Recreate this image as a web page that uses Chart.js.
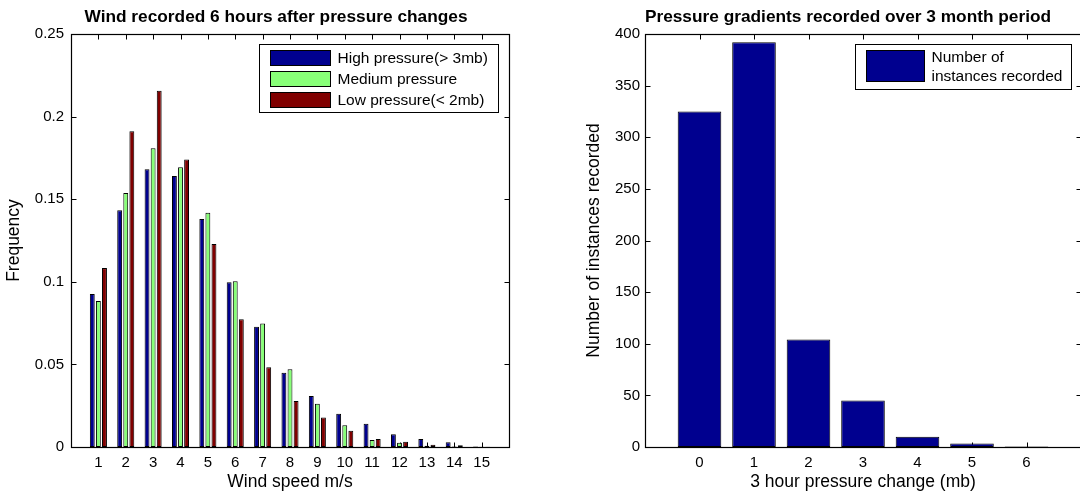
<!DOCTYPE html>
<html><head><meta charset="utf-8">
<script src="https://cdn.jsdelivr.net/npm/chart.js@4/dist/chart.umd.min.js"></script>
<style>
html,body{margin:0;padding:0;background:#fff;overflow:hidden;width:1080px;height:497px;position:relative;}
#c1{position:absolute;left:0;top:0;}
#c2{position:absolute;left:540px;top:0;}
</style></head><body>
<canvas id="c1" width="540" height="497"></canvas>
<canvas id="c2" width="552" height="497"></canvas>
<script>
// ---- data ----
const windSpeeds = [1, 2, 3, 4, 5, 6, 7, 8, 9, 10, 11, 12, 13, 14, 15];
const highPressure   = [0.0926, 0.1433, 0.1681, 0.1640, 0.1380, 0.0997, 0.0728, 0.0450, 0.0309, 0.0202, 0.0140, 0.0077, 0.0048, 0.0028, 0.0003];
const mediumPressure = [0.0884, 0.1537, 0.1808, 0.1693, 0.1418, 0.1003, 0.0747, 0.0470, 0.0262, 0.0131, 0.0042, 0.0025, 0.0008, 0.0003, 0.0001];
const lowPressure    = [0.1083, 0.1911, 0.2157, 0.1741, 0.1229, 0.0773, 0.0482, 0.0278, 0.0178, 0.0099, 0.0048, 0.0032, 0.0014, 0.0010, 0.0002];
const seriesLabels = ['High pressure(> 3mb)', 'Medium pressure', 'Low pressure(< 2mb)'];

const pressureChanges = [0, 1, 2, 3, 4, 5, 6];
const instancesRecorded = [325, 392, 104, 45, 10, 3.5, 0.5];

const FONT = "'Liberation Sans', Arial, Helvetica, sans-serif";
const TICK_FONT = {family: FONT, size: 15};
const LABEL_FONT = {family: FONT, size: 17.5};

// ---- plugins ----
const matlabFrame = {
  id: 'matlabFrame',
  beforeDatasetsDraw(chart, args, o) {
    const {ctx, chartArea: a, scales: {x, y}} = chart;
    ctx.save();
    ctx.strokeStyle = '#000';
    ctx.lineWidth = 1;
    const L = Math.round(a.left) + 0.5, R = Math.round(a.right) + 0.5;
    const T = Math.round(a.top) + 0.5, B = Math.round(a.bottom) + 0.5;
    const tl = 5;
    ctx.beginPath();
    x.ticks.forEach(t => {
      if (!o.xTicks.includes(t.value)) return;
      const px = Math.round(x.getPixelForValue(t.value)) + 0.5;
      ctx.moveTo(px, B); ctx.lineTo(px, B - tl);
      ctx.moveTo(px, T); ctx.lineTo(px, T + tl);
    });
    y.ticks.forEach(t => {
      const py = Math.round(y.getPixelForValue(t.value)) + 0.5;
      ctx.moveTo(L, py); ctx.lineTo(L + tl, py);
      ctx.moveTo(R, py); ctx.lineTo(R - tl, py);
    });
    ctx.stroke();
    ctx.restore();
  },
  afterDatasetsDraw(chart) {
    const {ctx, chartArea: a} = chart;
    ctx.save();
    ctx.strokeStyle = '#000';
    ctx.lineWidth = 1.2;
    const L = Math.round(a.left) + 0.5, R = Math.round(a.right) + 0.5;
    const T = Math.round(a.top) + 0.5, B = Math.round(a.bottom) + 0.5;
    ctx.strokeRect(L, T, R - L, B - T);
    ctx.restore();
  }
};

const matlabTitle = {
  id: 'matlabTitle',
  afterDraw(chart, args, o) {
    const {ctx, chartArea: a} = chart;
    ctx.save();
    ctx.font = `bold ${o.size}px ${FONT}`;
    ctx.fillStyle = '#000';
    ctx.textAlign = 'center';
    ctx.textBaseline = 'alphabetic';
    ctx.fillText(o.text, (a.left + a.right) / 2 + o.dx, o.baseline);
    ctx.restore();
  }
};

function wrapText(ctx, text, maxW) {
  const words = text.split(' ');
  const lines = [];
  let cur = '';
  words.forEach(w => {
    const test = cur ? cur + ' ' + w : w;
    if (cur && ctx.measureText(test).width > maxW) { lines.push(cur); cur = w; }
    else cur = test;
  });
  if (cur) lines.push(cur);
  return lines;
}

const matlabLegend = {
  id: 'matlabLegend',
  afterDraw(chart, args, o) {
    const {ctx, chartArea: a} = chart;
    ctx.save();
    ctx.font = `${o.size}px ${FONT}`;
    const entries = chart.data.datasets.map(ds => {
      const lines = wrapText(ctx, ds.label, o.wrap);
      return {lines, fill: ds.backgroundColor, h: o.swatchH + (lines.length - 1) * 16};
    });
    const textW = Math.max(...entries.flatMap(e => e.lines.map(l => ctx.measureText(l).width)));
    const boxW = Math.round(o.padL + o.swatchW + o.gap + textW + o.padR);
    const boxH = 6 + entries.reduce((s, e) => s + e.h, 0) + (entries.length - 1) * 6 + o.padB;
    const bx = Math.round(a.right - o.marginR - boxW) + 0.5;
    const by = Math.round(a.top + o.marginT) + 0.5;
    ctx.fillStyle = '#fff';
    ctx.fillRect(bx, by, boxW, boxH);
    ctx.strokeStyle = '#000';
    ctx.lineWidth = 1;
    ctx.strokeRect(bx, by, boxW, boxH);
    let yy = by + 6;
    entries.forEach(e => {
      ctx.fillStyle = e.fill;
      ctx.fillRect(bx + o.padL, yy, o.swatchW, e.h);
      ctx.strokeStyle = '#000';
      ctx.strokeRect(bx + o.padL, yy, o.swatchW, e.h);
      ctx.fillStyle = '#000';
      ctx.textAlign = 'left';
      ctx.textBaseline = 'middle';
      const cy = yy + e.h / 2 + 1;
      e.lines.forEach((l, i) => {
        ctx.fillText(l, bx + o.padL + o.swatchW + o.gap, cy + (i - (e.lines.length - 1) / 2) * 19);
      });
      yy += e.h + 6;
    });
    ctx.restore();
  }
};

const common = {
  responsive: false,
  animation: false,
  devicePixelRatio: 1,
  events: []
};

const trimNum = v => String(parseFloat(Number(v).toFixed(4)));

// ---- left chart ----
new Chart(document.getElementById('c1'), {
  type: 'bar',
  data: {
    labels: windSpeeds,
    datasets: [
      {label: seriesLabels[0], data: highPressure, backgroundColor: '#00008F'},
      {label: seriesLabels[1], data: mediumPressure, backgroundColor: '#88FF78'},
      {label: seriesLabels[2], data: lowPressure, backgroundColor: '#800000'}
    ]
  },
  options: Object.assign({}, common, {
    layout: {padding: {left: 0, right: 31, top: 34, bottom: 0}, autoPadding: false},
    datasets: {bar: {categoryPercentage: 0.667, barPercentage: 0.8, borderWidth: 1, borderColor: '#000', borderSkipped: false}},
    scales: {
      x: {
        type: 'linear', min: 0, max: 16, offset: false,
        grid: {display: false, drawTicks: false}, border: {display: false},
        ticks: {stepSize: 1, autoSkip: false, maxRotation: 0, padding: 7, font: TICK_FONT, color: '#000',
                callback: v => windSpeeds.includes(v) ? String(v) : ''},
        title: {display: true, text: 'Wind speed m/s', font: LABEL_FONT, color: '#000', padding: {top: 0, bottom: 4}},
        afterFit: s => { s.height = 50; }
      },
      y: {
        type: 'linear', min: 0, max: 0.25,
        grid: {display: false, drawTicks: false}, border: {display: false},
        ticks: {stepSize: 0.05, padding: 7, font: TICK_FONT, color: '#000', callback: trimNum},
        title: {display: true, text: 'Frequency', font: LABEL_FONT, color: '#000', padding: {top: 3.5, bottom: 0}},
        afterFit: s => { s.width = 71; }
      }
    },
    plugins: {
      legend: {display: false},
      tooltip: {enabled: false},
      title: {display: false},
      matlabFrame: {xTicks: windSpeeds},
      matlabTitle: {text: 'Wind recorded 6 hours after pressure changes', size: 17.3, dx: -14, baseline: 22},
      matlabLegend: {size: 15.5, wrap: 1000, swatchW: 60, swatchH: 15, gap: 7, padL: 11, padR: 11, padB: 5, marginR: 11, marginT: 10}
    }
  }),
  plugins: [matlabFrame, matlabTitle, matlabLegend]
});

// ---- right chart ----
new Chart(document.getElementById('c2'), {
  type: 'bar',
  data: {
    labels: pressureChanges,
    datasets: [
      {label: 'Number of instances recorded', data: instancesRecorded, backgroundColor: '#00008F'}
    ]
  },
  options: Object.assign({}, common, {
    layout: {padding: {left: 0, right: 11, top: 34, bottom: 0}, autoPadding: false},
    datasets: {bar: {categoryPercentage: 1.0, barPercentage: 0.8, borderWidth: 1, borderColor: '#000', borderSkipped: false}},
    scales: {
      x: {
        type: 'linear', min: -1, max: 7, offset: false,
        grid: {display: false, drawTicks: false}, border: {display: false},
        ticks: {stepSize: 1, autoSkip: false, maxRotation: 0, padding: 7, font: TICK_FONT, color: '#000',
                callback: v => pressureChanges.includes(v) ? String(v) : ''},
        title: {display: true, text: '3 hour pressure change (mb)', font: LABEL_FONT, color: '#000', padding: {top: 0, bottom: 4}},
        afterFit: s => { s.height = 50; }
      },
      y: {
        type: 'linear', min: 0, max: 400,
        grid: {display: false, drawTicks: false}, border: {display: false},
        ticks: {stepSize: 50, padding: 5, font: TICK_FONT, color: '#000'},
        title: {display: true, text: 'Number of instances recorded', font: LABEL_FONT, color: '#000', padding: {top: 43.5, bottom: 0}},
        afterFit: s => { s.width = 105; }
      }
    },
    plugins: {
      legend: {display: false},
      tooltip: {enabled: false},
      title: {display: false},
      matlabFrame: {xTicks: pressureChanges},
      matlabTitle: {text: 'Pressure gradients recorded over 3 month period', size: 17.3, dx: -15, baseline: 22},
      matlabLegend: {size: 15.5, wrap: 140, swatchW: 58, swatchH: 15, gap: 7, padL: 11, padR: 9, padB: 8, marginR: 10, marginT: 10}
    }
  }),
  plugins: [matlabFrame, matlabTitle, matlabLegend]
});
</script>
</body></html>
